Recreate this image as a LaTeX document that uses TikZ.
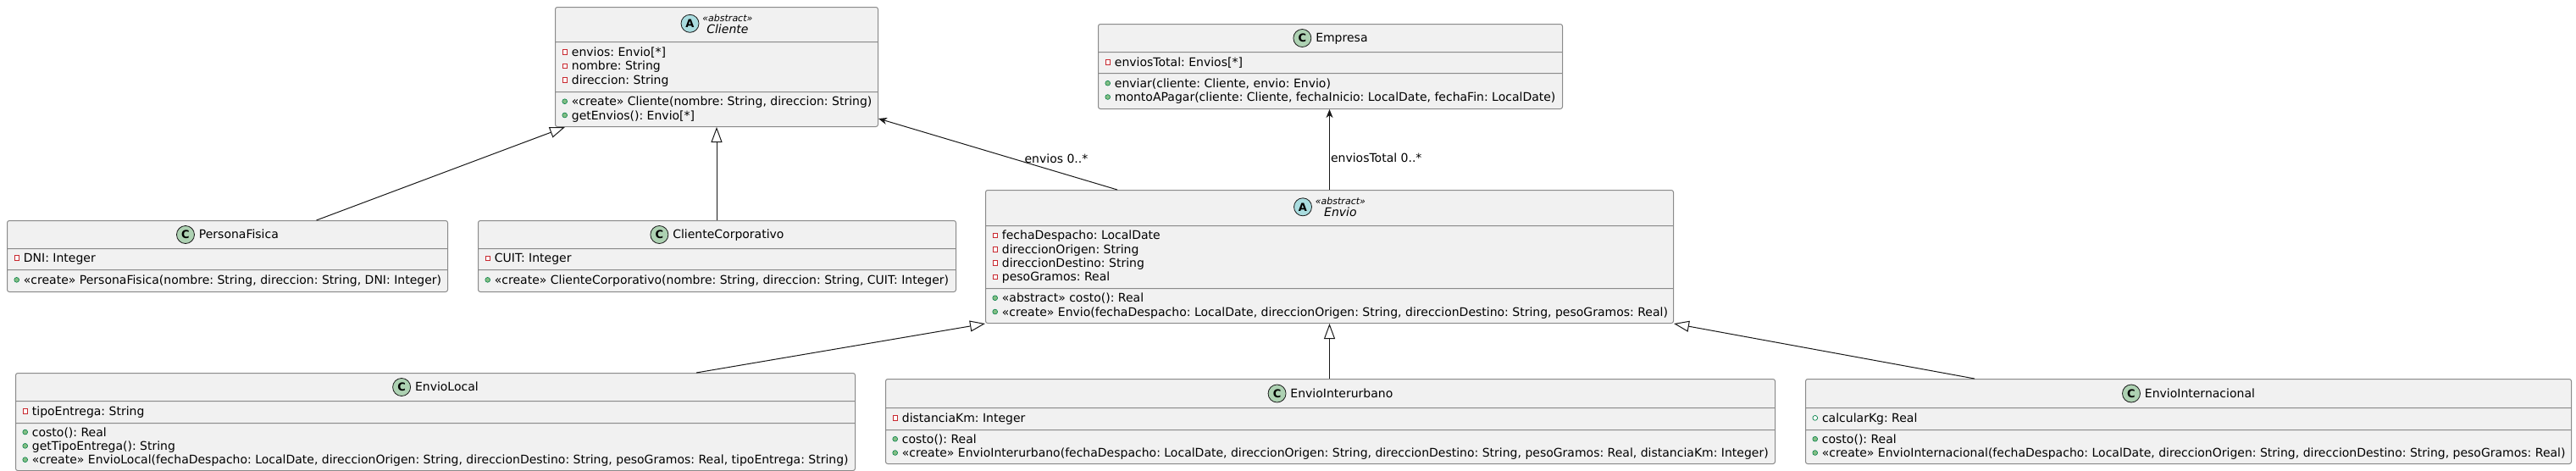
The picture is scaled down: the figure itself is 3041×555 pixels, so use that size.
\documentclass[tikz,border=0pt]{standalone}
\usepackage{fontspec}
\setmainfont{DejaVu Sans}
\usepackage{xcolor}
\usetikzlibrary{arrows.meta,shapes.multipart,calc}
\frenchspacing

\definecolor{boxfill}{HTML}{F1F1F1}
\definecolor{boxline}{HTML}{8A8A8A}
\definecolor{linedark}{HTML}{181818}
\definecolor{iconC}{HTML}{ADD1B2}
\definecolor{iconA}{HTML}{A9DCDF}
\definecolor{privred}{HTML}{C82930}
\definecolor{pubdark}{HTML}{038048}
\definecolor{publight}{HTML}{84BE84}

\newcommand{\classicon}[2]{\tikz[baseline=-4.8pt]\node[circle, anchor=center,
  draw=linedark, fill=#2, line width=0.8pt, inner sep=0pt, minimum size=21pt,
  font=\fontsize{13}{13}\selectfont\bfseries] {#1};}
\newcommand{\priv}[1]{\hspace*{8pt}\tikz[baseline=0pt]\draw[privred, fill=white,
  sharp corners, line width=0.8pt] (0pt,2.2pt) rectangle (5.6pt,7.8pt);\hspace{5pt}#1}
\newcommand{\pubm}[1]{\hspace*{8pt}\tikz[baseline=0pt]\draw[pubdark, fill=publight,
  line width=0.6pt] (2.9pt,5pt) circle (2.9pt);\hspace{5pt}#1}
\newcommand{\pubf}[1]{\hspace*{8pt}\tikz[baseline=0pt]\draw[pubdark, fill=white,
  line width=0.7pt] (2.9pt,5pt) circle (2.9pt);\hspace{5pt}#1}
\newcommand{\chead}[3]{\parbox[c][#1pt][c]{#2pt}{\centering #3}}
\newcommand{\cpart}[3]{\parbox[c][#1pt][c]{#2pt}{\raggedright #3}}
\newcommand{\stereo}[1]{\begin{tabular}{@{}c@{}}{\fontsize{11}{11}\selectfont\itshape
  «abstract»}\\[-2pt]\itshape #1\end{tabular}}

\begin{document}
\begin{tikzpicture}[x=1pt, y=1pt,
  umlclass/.style={rectangle split, rectangle split parts=3, draw=boxline,
    fill=boxfill, line width=1pt, rounded corners=2.5pt, inner sep=0pt,
    anchor=north west, font=\fontsize{14}{16.3}\selectfont},
  extends/.style={-{Triangle[open, length=18pt, width=13pt]}, draw=linedark,
    line width=1pt},
  assoc/.style={-{Stealth[length=10pt, width=8pt, inset=3pt]}, draw=linedark,
    line width=1pt},
  role/.style={font=\fontsize{14}{16.3}\selectfont, inner sep=1pt}
]
  \useasboundingbox (0,0) rectangle (3041,-555);

  \node[umlclass] (cliente) at (655,-8)
    {\chead{40}{381}{\classicon{A}{iconA}\hspace{4pt}\stereo{Cliente}}
     \nodepart{second}\cpart{58}{381}{\priv{envios: Envio[*]}\\
       \priv{nombre: String}\\\priv{direccion: String}}
     \nodepart{third}\cpart{40}{381}{\pubm{«create» Cliente(nombre: String, direccion: String)}\\
       \pubm{getEnvios(): Envio[*]}}};
  \node[umlclass] (empresa) at (1296,-28)
    {\chead{32}{548}{\classicon{C}{iconC}\hspace{5pt}Empresa}
     \nodepart{second}\cpart{24}{548}{\priv{enviosTotal: Envios[*]}}
     \nodepart{third}\cpart{41}{548}{\pubm{enviar(cliente: Cliente, envio: Envio)}\\
       \pubm{montoAPagar(cliente: Cliente, fechaInicio: LocalDate, fechaFin: LocalDate)}}};
  \node[umlclass] (persona) at (8,-260)
    {\chead{32}{520}{\classicon{C}{iconC}\hspace{5pt}PersonaFisica}
     \nodepart{second}\cpart{24}{520}{\priv{DNI: Integer}}
     \nodepart{third}\cpart{25}{520}{\pubm{«create» PersonaFisica(nombre: String, direccion: String, DNI: Integer)}}};
  \node[umlclass] (corporativo) at (564,-260)
    {\chead{32}{564}{\classicon{C}{iconC}\hspace{5pt}ClienteCorporativo}
     \nodepart{second}\cpart{24}{564}{\priv{CUIT: Integer}}
     \nodepart{third}\cpart{25}{564}{\pubm{«create» ClienteCorporativo(nombre: String, direccion: String, CUIT: Integer)}}};
  \node[umlclass] (envio) at (1163,-224)
    {\chead{41}{812}{\classicon{A}{iconA}\hspace{4pt}\stereo{Envio}}
     \nodepart{second}\cpart{73}{812}{\priv{fechaDespacho: LocalDate}\\
       \priv{direccionOrigen: String}\\\priv{direccionDestino: String}\\
       \priv{pesoGramos: Real}}
     \nodepart{third}\cpart{40}{812}{\pubm{«abstract» costo(): Real}\\
       \pubm{«create» Envio(fechaDespacho: LocalDate, direccionOrigen: String, direccionDestino: String, pesoGramos: Real)}}};
  \node[umlclass] (local) at (18,-440)
    {\chead{32}{991}{\classicon{C}{iconC}\hspace{5pt}EnvioLocal}
     \nodepart{second}\cpart{25}{991}{\priv{tipoEntrega: String}}
     \nodepart{third}\cpart{55}{991}{\pubm{costo(): Real}\\
       \pubm{getTipoEntrega(): String}\\
       \pubm{«create» EnvioLocal(fechaDespacho: LocalDate, direccionOrigen: String, direccionDestino: String, pesoGramos: Real, tipoEntrega: String)}}};
  \node[umlclass] (interurbano) at (1045,-447)
    {\chead{33}{1050}{\classicon{C}{iconC}\hspace{5pt}EnvioInterurbano}
     \nodepart{second}\cpart{25}{1050}{\priv{distanciaKm: Integer}}
     \nodepart{third}\cpart{39}{1050}{\pubm{costo(): Real}\\
       \pubm{«create» EnvioInterurbano(fechaDespacho: LocalDate, direccionOrigen: String, direccionDestino: String, pesoGramos: Real, distanciaKm: Integer)}}};
  \node[umlclass] (internacional) at (2131,-447)
    {\chead{33}{904}{\classicon{C}{iconC}\hspace{5pt}EnvioInternacional}
     \nodepart{second}\cpart{25}{904}{\pubf{calcularKg: Real}}
     \nodepart{third}\cpart{39}{904}{\pubm{costo(): Real}\\
       \pubm{«create» EnvioInternacional(fechaDespacho: LocalDate, direccionOrigen: String, direccionDestino: String, pesoGramos: Real)}}};

  \draw[extends] ($(persona.north)+(105,0)$) -- ($(cliente.south west)+(12,0)$);
  \draw[extends] (cliente.south |- corporativo.north) -- (cliente.south);
  \draw[assoc] ($(envio.north west)+(156,0)$) -- node[role, pos=0.443, anchor=west,
    xshift=14pt] {envios 0..*} ($(cliente.south east)+(0,10)$);
  \draw[assoc] (envio.north) -- node[role, pos=0.394, anchor=west] {enviosTotal 0..*}
    (envio.north |- empresa.south);
  \draw[extends] ($(local.north west)+(804,0)$) -- (envio.south west);
  \draw[extends] (envio.south |- interurbano.north) -- (envio.south);
  \draw[extends] ($(internacional.north west)+(200,0)$) -- (envio.south east);
\end{tikzpicture}
\end{document}
